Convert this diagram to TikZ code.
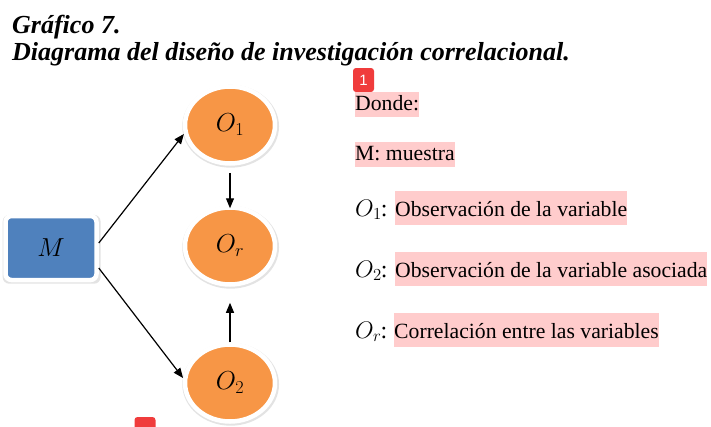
\documentclass[tikz,border=0pt]{standalone}
\usepackage{fix-cm}
\usepackage{fontspec}
\setmainfont{Liberation Serif}
\newfontfamily\badgefont{Liberation Sans}
\usetikzlibrary{shapes.geometric,shadows,arrows.meta}
\definecolor{orng}{HTML}{F79646}
\definecolor{blu}{HTML}{4F81BD}
\definecolor{hl}{HTML}{FFCCCC}
\definecolor{badgec}{HTML}{F03C3C}
\begin{document}
\begin{tikzpicture}[x=1pt,y=-1pt,
  halo/.style={drop shadow={opacity=0.22, shadow scale=1.075, shadow xshift=0.6pt, shadow yshift=-1.2pt}},
  obs/.style={ellipse, fill=orng, draw=white, line width=4.5pt, minimum width=90pt, minimum height=77pt,
    halo, font=\fontsize{26}{26}\selectfont},
  mbox/.style={rectangle, rounded corners=6pt, fill=blu, draw=white, line width=4.5pt, minimum width=91pt, minimum height=64pt,
    halo, font=\fontsize{26}{26}\selectfont},
  conn/.style={line width=1.2pt, -{Triangle[length=10pt,width=8pt]}},
  ttl/.style={anchor=base west, inner sep=0, font=\fontsize{26}{26}\selectfont\bfseries\itshape},
  plain/.style={anchor=base west, inner sep=0, font=\fontsize{24}{24}\selectfont},
  hlsmall/.style={anchor=base west, fill=hl, inner xsep=0pt, inner ysep=3.5pt, text height=15pt, text depth=3pt, font=\fontsize{21.7}{22}\selectfont},
  hlbig/.style={anchor=base west, fill=hl, inner xsep=0pt, inner ysep=5pt, text height=20pt, text depth=4pt, font=\fontsize{21.7}{22}\selectfont},
  badge/.style={rectangle, rounded corners=3pt, fill=badgec, text=white, minimum width=21pt, minimum height=24pt, inner sep=0, font=\badgefont\fontsize{15}{15}\selectfont}]
\useasboundingbox (0,0) rectangle (711,426);
\fill[white] (0,0) rectangle (711,426);
% title
\node[ttl] (t1) at (12,33) {Gráfico 7.};
\node[ttl] (t2) at (12,60) {Diagrama del diseño de investigación correlacional.};
% diagram
\node[mbox] (M) at (51,248) {$M$};
\node[obs] (O1) at (230,125) {$O_1$};
\node[obs] (Or) at (230,246) {$O_r$};
\node[obs] (O2) at (230,383) {$O_2$};
\draw[conn] ([yshift=5pt]M.east) -- (O1.191);
\draw[conn] ([yshift=-20pt]M.east) -- (O2.174);
\draw[conn, shorten <=7pt, shorten >=-3pt] (O1.south) -- (Or.north);
\draw[conn, shorten >=16pt] (O2.north) -- (Or.south);
% legend
\node[badge] (b1) at (363.5,80) {1};
\node[badge] (b2) at (145,429) {};
\node[hlsmall] (l0) at (355,110) {Donde:};
\node[hlsmall] (l1) at (355,160) {M: muestra};
\node[plain] (m1) at (355,216) {$O_1$\kern-1pt:};
\node[hlbig] (l2) at (395,216) {Observación de la variable};
\node[plain] (m2) at (355,277) {$O_2$\kern-1pt:};
\node[hlbig] (l3) at (395,277) {Observación de la variable asociada};
\node[plain] (m3) at (355,338) {$O_r$\kern-1pt:};
\node[hlbig] (l4) at (394,338) {Correlación entre las variables};
\end{tikzpicture}
\end{document}
